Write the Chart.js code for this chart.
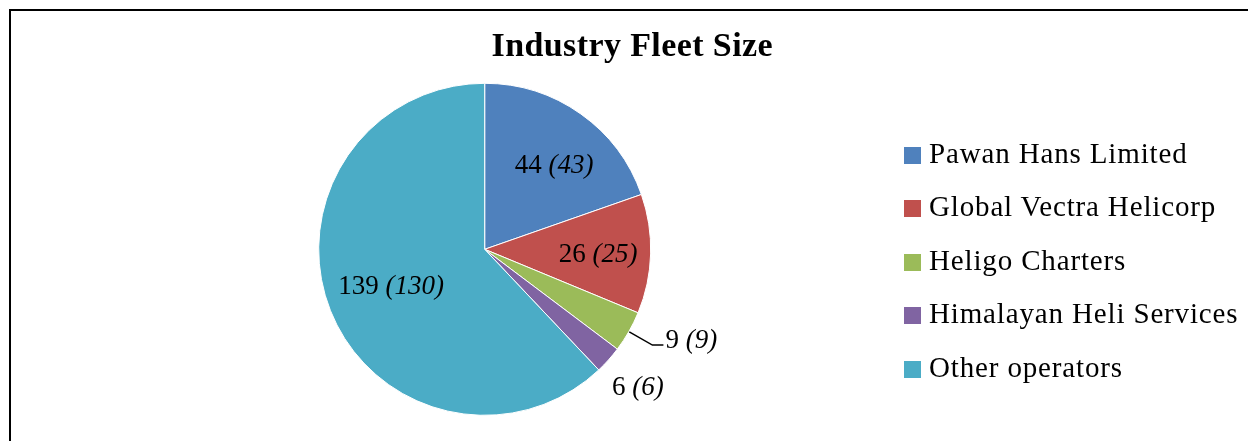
<!DOCTYPE html>
<html>
<head>
<meta charset="utf-8">
<script src="https://cdn.jsdelivr.net/npm/chart.js@4.4.1/dist/chart.umd.min.js"></script>
<style>
  html, body { margin:0; padding:0; width:1248px; height:441px; overflow:hidden; background:#fff; }
  #frame { position:absolute; left:9px; top:9px; width:1400px; height:600px; border:2px solid #000; box-sizing:border-box; }
  #chart { position:absolute; left:0; top:0; }
  .title { position:absolute; font-family:"Liberation Serif", serif; font-weight:bold; font-size:34px; line-height:34px; letter-spacing:0.4px; white-space:nowrap; color:#000; }
  .lg-box { position:absolute; width:17px; height:17px; }
  .lg-text { position:absolute; font-family:"Liberation Serif", serif; font-size:29px; line-height:29px; letter-spacing:0.85px; white-space:nowrap; color:#000; }
</style>
</head>
<body>
<div id="frame"></div>
<canvas id="chart" width="1248" height="441"></canvas>
<div id="overlay"></div>
<script>
// ---- data ----
const categories = ['Pawan Hans Limited', 'Global Vectra Helicorp', 'Heligo Charters', 'Himalayan Heli Services', 'Other operators'];
const fleetValues = [44, 26, 9, 6, 139];
const prevValues = [43, 25, 9, 6, 130];
const sliceColors = ['#4F81BD', '#C0504D', '#9BBB59', '#8064A2', '#4BACC6'];
const titleText = 'Industry Fleet Size';

// ---- label placement (style) ----
const labelPlacement = [
  { mode: 'inside', rf: 0.661, da: 3.7 },
  { mode: 'inside', rf: 0.681, da: 0.3 },
  { mode: 'leader', elbowRf: 1.16, tail: 11, gap: 2, dy: -6 },
  { mode: 'inside', rf: 1.234, da: 0 },
  { mode: 'inside', rf: 0.602, da: 0.8 }
];
const LABEL_FS = 27;

// ---- title and legend (DOM text) ----
const overlay = document.getElementById('overlay');
const t = document.createElement('div');
t.className = 'title';
t.textContent = titleText;
overlay.appendChild(t);
t.style.top = (56 - 0.8375 * 34) + 'px';
t.style.left = (632 - t.offsetWidth / 2) + 'px';

categories.forEach((name, i) => {
  const b = document.createElement('div');
  b.className = 'lg-box';
  b.style.left = '904px';
  b.style.top = (147 + i * 53.4) + 'px';
  b.style.background = sliceColors[i];
  overlay.appendChild(b);
  const s = document.createElement('div');
  s.className = 'lg-text';
  s.textContent = name;
  s.style.left = '929px';
  s.style.top = (163.3 + i * 53.4 - 0.8375 * 29) + 'px';
  overlay.appendChild(s);
});

// ---- data label plugin ----
const pieLabels = {
  id: 'pieLabels',
  afterDatasetsDraw(chart) {
    const ctx = chart.ctx;
    const meta = chart.getDatasetMeta(0);
    const fontN = LABEL_FS + 'px "Liberation Serif", serif';
    const fontI = 'italic ' + LABEL_FS + 'px "Liberation Serif", serif';
    meta.data.forEach((arc, i) => {
      const p = arc.getProps(['x', 'y', 'startAngle', 'endAngle', 'outerRadius'], true);
      const R = p.outerRadius + 0.5;
      const mid = (p.startAngle + p.endAngle) / 2;
      const cfg = labelPlacement[i];
      const a = String(fleetValues[i]) + ' ';
      const b = '(' + prevValues[i] + ')';
      ctx.save();
      ctx.font = fontN; const wa = ctx.measureText(a).width;
      ctx.font = fontI; const wb = ctx.measureText(b).width;
      let sx, cy;
      if (cfg.mode === 'leader') {
        const ex = p.x + Math.cos(mid) * R, ey = p.y + Math.sin(mid) * R;
        const kx = p.x + Math.cos(mid) * R * cfg.elbowRf, ky = p.y + Math.sin(mid) * R * cfg.elbowRf;
        ctx.strokeStyle = '#000';
        ctx.lineWidth = 1.5;
        ctx.beginPath();
        ctx.moveTo(ex, ey);
        ctx.lineTo(kx, ky);
        ctx.lineTo(kx + cfg.tail, ky);
        ctx.stroke();
        sx = kx + cfg.tail + cfg.gap;
        cy = ky + cfg.dy;
      } else {
        const ang = mid + cfg.da * Math.PI / 180;
        const cx = p.x + Math.cos(ang) * R * cfg.rf;
        cy = p.y + Math.sin(ang) * R * cfg.rf;
        sx = cx - (wa + wb) / 2;
      }
      const by = cy + 0.34 * LABEL_FS;
      ctx.fillStyle = '#000';
      ctx.textBaseline = 'alphabetic';
      ctx.textAlign = 'left';
      ctx.font = fontN; ctx.fillText(a, sx, by);
      ctx.font = fontI; ctx.fillText(b, sx + wa, by);
      ctx.restore();
    });
  }
};

new Chart(document.getElementById('chart'), {
  type: 'pie',
  data: {
    labels: categories,
    datasets: [{
      data: fleetValues,
      backgroundColor: sliceColors,
      borderColor: '#ffffff',
      borderWidth: 1,
      radius: 166
    }]
  },
  options: {
    responsive: false,
    animation: false,
    events: [],
    radius: 166,
    layout: { padding: { left: 300, right: 578.6, top: 60, bottom: 2.4 } },
    plugins: {
      legend: { display: false },
      title: { display: false },
      tooltip: { enabled: false }
    }
  },
  plugins: [pieLabels]
});
</script>
</body>
</html>
